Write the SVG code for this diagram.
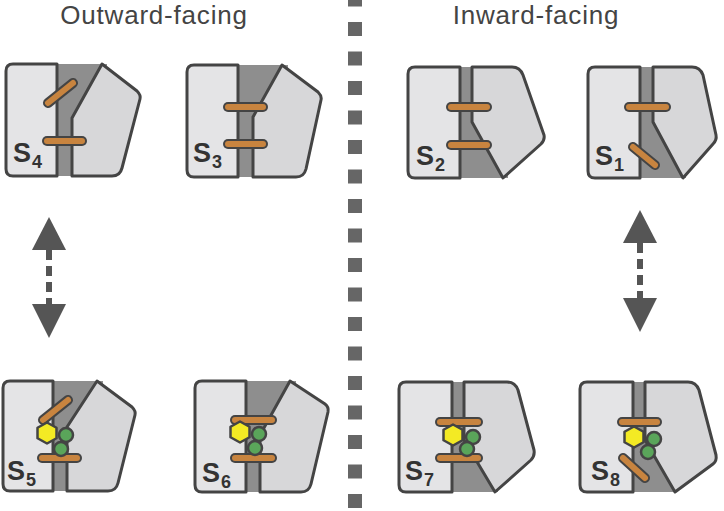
<svg xmlns="http://www.w3.org/2000/svg" xmlns:xlink="http://www.w3.org/1999/xlink" width="724" height="511" viewBox="0 0 724 511">
<style>
.lb{fill:#e4e4e6;stroke:#444;stroke-width:3;stroke-linejoin:round}
.rb{fill:#d7d7d9;stroke:#444;stroke-width:3;stroke-linejoin:round}
.ch{fill:#8e8e8e}
.bo{stroke:#444;stroke-width:10;stroke-linecap:round;fill:none}
.bi{stroke:#c8843f;stroke-width:6;stroke-linecap:round;fill:none}
.hex{fill:#f3ea24;stroke:#444;stroke-width:2.5;stroke-linejoin:round}
.gr{fill:#5aa55a;stroke:#444;stroke-width:2.5}
.lab{font-family:"Liberation Sans",Arial,sans-serif;font-weight:bold;fill:#333}
.s{font-size:27px}
.sub{font-size:18px}
.title{font-family:"Liberation Sans",Arial,sans-serif;font-size:26px;letter-spacing:0.8px;fill:#444;text-anchor:middle}
.ah{fill:#555}
.sh{stroke:#555;stroke-width:6;stroke-dasharray:10 6;fill:none}
.div{stroke:#666;stroke-width:14;stroke-dasharray:14 15.5;fill:none}
</style>
<defs>
<polygon id="hx" class="hex" points="0,-10.5 9.5,-5.25 9.5,5.25 0,10.5 -9.5,5.25 -9.5,-5.25"/>
</defs>
<rect width="724" height="511" fill="#fff"/>

<g id="titles">
<text class="title" x="154" y="24">Outward-facing</text>
<text class="title" x="536" y="24">Inward-facing</text>
</g>

<g id="divider">
<line class="div" x1="355" y1="-7.5" x2="355" y2="511"/>
</g>

<g id="s4">
<rect class="ch" x="57" y="64" width="50" height="112"/>
<path class="lb" d="M57,64 H13 Q6,64 6,71 V169 Q6,176 13,176 H57 Z"/>
<path class="rb" d="M102,64 L137,91 Q141,95 140,99 L122,168 Q120,176 112,176 H72 V118 Z"/>
<line class="bo" x1="48" y1="103" x2="73" y2="83"/><line class="bi" x1="48" y1="103" x2="73" y2="83"/>
<line class="bo" x1="47" y1="141" x2="82" y2="141"/><line class="bi" x1="47" y1="141" x2="82" y2="141"/>
<text class="lab" x="13" y="162"><tspan class="s">S</tspan><tspan class="sub" dx="1" dy="6">4</tspan></text>
</g>

<g id="s3">
<rect class="ch" x="238" y="65" width="50" height="112"/>
<path class="lb" d="M238,65 H194 Q187,65 187,72 V170 Q187,177 194,177 H238 Z"/>
<path class="rb" d="M282,65 L318,92 Q322,96 321,100 L306,169 Q304,177 296,177 H253 V117 Z"/>
<line class="bo" x1="228" y1="107" x2="263" y2="107"/><line class="bi" x1="228" y1="107" x2="263" y2="107"/>
<line class="bo" x1="228" y1="144" x2="263" y2="144"/><line class="bi" x1="228" y1="144" x2="263" y2="144"/>
<text class="lab" x="193" y="162"><tspan class="s">S</tspan><tspan class="sub" dx="1" dy="6">3</tspan></text>
</g>

<g id="s2">
<rect class="ch" x="460" y="67" width="48" height="111"/>
<path class="lb" d="M460,67 H415 Q408,67 408,74 V171 Q408,178 415,178 H460 Z"/>
<path class="rb" d="M472,67 H512 Q520,67 523,75 L544,135 Q545,140 541,144 L503,178 L472,122 Z"/>
<line class="bo" x1="451" y1="107" x2="487" y2="107"/><line class="bi" x1="451" y1="107" x2="487" y2="107"/>
<line class="bo" x1="451" y1="145" x2="487" y2="145"/><line class="bi" x1="451" y1="145" x2="487" y2="145"/>
<text class="lab" x="416" y="165"><tspan class="s">S</tspan><tspan class="sub" dx="1" dy="6">2</tspan></text>
</g>

<g id="s1">
<rect class="ch" x="640" y="67" width="46" height="111"/>
<path class="lb" d="M640,67 H595 Q588,67 588,74 V171 Q588,178 595,178 H640 Z"/>
<path class="rb" d="M653,67 H692 Q700,67 703,75 L716,135 Q717,140 713,144 L683,178 L653,122 Z"/>
<line class="bo" x1="629" y1="107" x2="666" y2="107"/><line class="bi" x1="629" y1="107" x2="666" y2="107"/>
<line class="bo" x1="633" y1="147" x2="655" y2="165"/><line class="bi" x1="633" y1="147" x2="655" y2="165"/>
<text class="lab" x="595" y="165"><tspan class="s">S</tspan><tspan class="sub" dx="1" dy="6">1</tspan></text>
</g>

<g id="s5">
<rect class="ch" x="53" y="381" width="50" height="110"/>
<path class="lb" d="M53,381 H10 Q3,381 3,388 V484 Q3,491 10,491 H53 Z"/>
<path class="rb" d="M97,381 L132,407 Q136,411 135,415 L118,483 Q116,491 108,491 H67 V427 Z"/>
<line class="bo" x1="43" y1="420" x2="68" y2="400"/><line class="bi" x1="43" y1="420" x2="68" y2="400"/>
<line class="bo" x1="42" y1="458" x2="77" y2="458"/><line class="bi" x1="42" y1="458" x2="77" y2="458"/>
<use xlink:href="#hx" x="47" y="433"/>
<circle class="gr" cx="66" cy="435" r="7"/>
<circle class="gr" cx="61" cy="449" r="7"/>
<text class="lab" x="7" y="480"><tspan class="s">S</tspan><tspan class="sub" dx="1" dy="6">5</tspan></text>
</g>

<g id="s6">
<rect class="ch" x="246" y="381" width="50" height="111"/>
<path class="lb" d="M246,381 H202 Q195,381 195,388 V485 Q195,492 202,492 H246 Z"/>
<path class="rb" d="M290,381 L325,404 Q329,407 328,412 L311,484 Q309,492 301,492 H260 V435 Z"/>
<line class="bo" x1="235" y1="420" x2="272" y2="420"/><line class="bi" x1="235" y1="420" x2="272" y2="420"/>
<line class="bo" x1="235" y1="458" x2="272" y2="458"/><line class="bi" x1="235" y1="458" x2="272" y2="458"/>
<use xlink:href="#hx" x="240" y="432"/>
<circle class="gr" cx="259" cy="434" r="7"/>
<circle class="gr" cx="255" cy="448" r="7"/>
<text class="lab" x="202" y="482"><tspan class="s">S</tspan><tspan class="sub" dx="1" dy="6">6</tspan></text>
</g>

<g id="s7">
<rect class="ch" x="452" y="382" width="46" height="110"/>
<path class="lb" d="M452,382 H406 Q399,382 399,389 V485 Q399,492 406,492 H452 Z"/>
<path class="rb" d="M464,382 H507 Q515,382 518,390 L534,450 Q535,456 531,460 L495,492 L464,440 Z"/>
<line class="bo" x1="440" y1="422" x2="478" y2="422"/><line class="bi" x1="440" y1="422" x2="478" y2="422"/>
<line class="bo" x1="440" y1="458" x2="478" y2="458"/><line class="bi" x1="440" y1="458" x2="478" y2="458"/>
<use xlink:href="#hx" x="453" y="435"/>
<circle class="gr" cx="473" cy="437" r="7"/>
<circle class="gr" cx="467" cy="449" r="7"/>
<text class="lab" x="405" y="480"><tspan class="s">S</tspan><tspan class="sub" dx="1" dy="6">7</tspan></text>
</g>

<g id="s8">
<rect class="ch" x="633" y="382" width="44" height="110"/>
<path class="lb" d="M633,382 H587 Q580,382 580,389 V485 Q580,492 587,492 H633 Z"/>
<path class="rb" d="M645,382 H688 Q696,382 699,390 L716,455 Q717,461 713,464 L675,492 L645,440 Z"/>
<line class="bo" x1="622" y1="422" x2="657" y2="422"/><line class="bi" x1="622" y1="422" x2="657" y2="422"/>
<line class="bo" x1="623" y1="458" x2="645" y2="478"/><line class="bi" x1="623" y1="458" x2="645" y2="478"/>
<use xlink:href="#hx" x="634" y="437"/>
<circle class="gr" cx="654" cy="439" r="7"/>
<circle class="gr" cx="648" cy="452" r="7"/>
<text class="lab" x="591" y="480"><tspan class="s">S</tspan><tspan class="sub" dx="1" dy="6">8</tspan></text>
</g>

<g id="connectors">
<polygon class="ah" points="49,217 66,250 32,250"/>
<line class="sh" x1="49" y1="250" x2="49" y2="304"/>
<polygon class="ah" points="32,304 66,304 49,338"/>
<polygon class="ah" points="640,210 657,243 623,243"/>
<line class="sh" x1="640" y1="243" x2="640" y2="298"/>
<polygon class="ah" points="623,298 657,298 640,332"/>
</g>
</svg>
